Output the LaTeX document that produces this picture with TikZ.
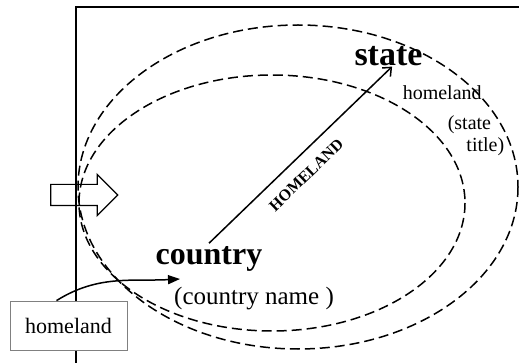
\documentclass[tikz,border=0pt]{standalone}
\usepackage{fontspec}
\setmainfont{Liberation Serif}
\usetikzlibrary{shapes.arrows,arrows.meta}
\begin{document}
\begin{tikzpicture}[x=1pt, y=-1pt, line width=1.5pt]
\tikzstyle{ring}=[dash pattern=on 10pt off 5pt]
\tikzstyle{word}=[anchor=base, inner sep=3pt, font=\fontsize{20}{22}\selectfont]
\useasboundingbox (0,0) rectangle (519,363);
% frame
\draw (76,363) -- (76,7) -- (519,7);
% dashed rings
\draw [ring] (298,187) ellipse [x radius=220, y radius=162];
\draw [ring] (272,203) ellipse [x radius=193, y radius=128];
% labels
\node [word, font=\bfseries\fontsize{34}{36}\selectfont] (s) at (388.5,66) {state};
\node [word, font=\bfseries\fontsize{32}{34}\selectfont] (c) at (209,265) {country};
\node [word, font=\fontsize{25}{27}\selectfont] (n) at (254,304) {(country name )};
\node [word, anchor=base west] (h1) at (399,100) {homeland};
\node [word, anchor=base west] (h2) at (444,130) {(state};
\node [word, anchor=base east] (h3) at (508,152) {title)};
% homeland box
\node [draw=gray, fill=white, line width=0.8pt, minimum width=117, minimum height=49,
       font=\fontsize{22}{24}\selectfont] (b) at (68.5,325.5) {homeland};
\coordinate (t) at (180,279);
% block arrow
\node [single arrow, draw, line width=1.2pt, inner sep=0pt, inner ysep=10pt, minimum height=67,
       single arrow head extend=10pt] (a) at (79,195) {};
% connectors
\draw [-{Straight Barb[length=7pt,width=12pt]}, shorten >=-5pt] (c.north) -- (s.south)
    node [sloped, pos=0.47, below=9pt, font=\bfseries\fontsize{16}{17}\selectfont] {HOMELAND};
\draw [-{Triangle[length=12pt,width=9pt]}] ([xshift=-12pt]b.north) to [out=32, in=183] (t);
\end{tikzpicture}
\end{document}
